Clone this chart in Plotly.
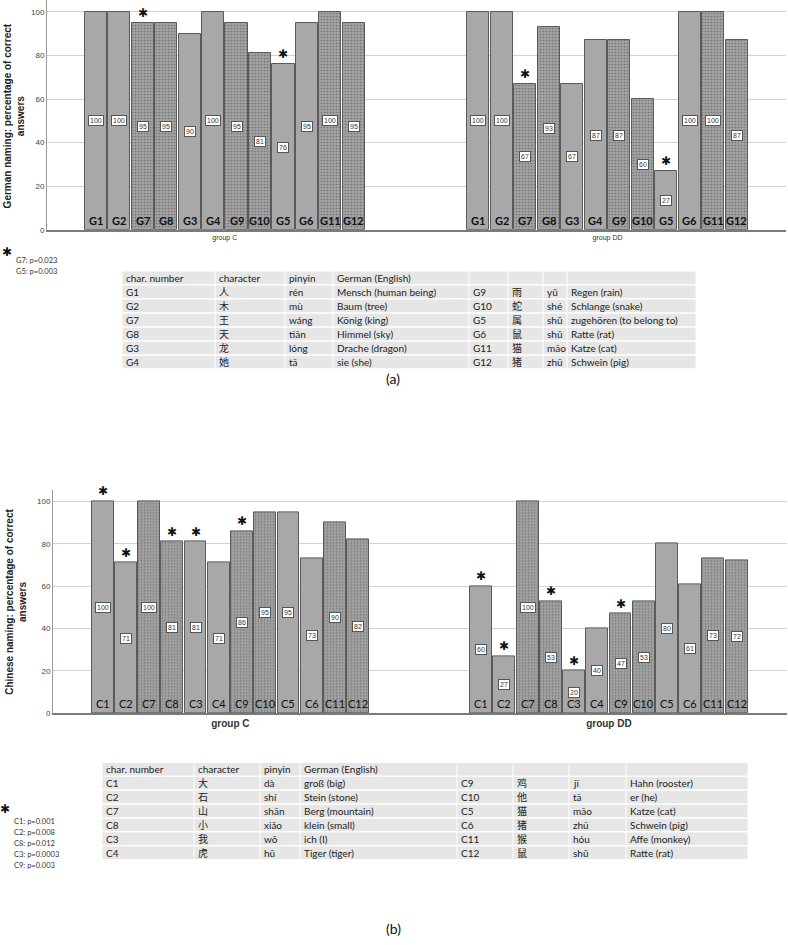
import plotly.graph_objects as go

W, H = 788, 945

# ---------------- data ----------------
groups = ["group C", "group DD"]

a_labels = ["G1", "G2", "G7", "G8", "G3", "G4", "G9", "G10", "G5", "G6", "G11", "G12"]
a_group_c = [100, 100, 95, 95, 90, 100, 95, 81, 76, 95, 100, 95]
a_group_dd = [100, 100, 67, 93, 67, 87, 87, 60, 27, 100, 100, 87]
a_sig = ["G7", "G5"]
a_pvals = ["G7: p=0.023", "G5: p=0.003"]

b_labels = ["C1", "C2", "C7", "C8", "C3", "C4", "C9", "C10", "C5", "C6", "C11", "C12"]
b_group_c = [100, 71, 100, 81, 81, 71, 86, 95, 95, 73, 90, 82]
b_group_dd = [60, 27, 100, 53, 20, 40, 47, 53, 80, 61, 73, 72]
b_sig = ["C1", "C2", "C8", "C3", "C9"]
b_pvals = ["C1: p=0.001", "C2: p=0.008", "C8: p=0.012", "C3: p=0.0003", "C9: p=0.003"]

y_ticks = [0, 20, 40, 60, 80, 100]

table_header = ["char. number", "character", "pinyin", "German (English)"]
a_tab_num = ["G1", "G2", "G7", "G8", "G3", "G4", "G9", "G10", "G5", "G6", "G11", "G12"]
a_tab_char = ["人", "木", "王", "天", "龙", "她", "雨", "蛇", "属", "鼠", "猫", "猪"]
a_tab_pinyin = ["rén", "mù", "wáng", "tiān", "lóng", "tā", "yǔ", "shé", "shǔ", "shǔ", "māo", "zhū"]
a_tab_german = ["Mensch (human being)", "Baum (tree)", "König (king)", "Himmel (sky)",
                "Drache (dragon)", "sie (she)", "Regen (rain)", "Schlange (snake)",
                "zugehören (to belong to)", "Ratte (rat)", "Katze (cat)", "Schwein (pig)"]

b_tab_num = ["C1", "C2", "C7", "C8", "C3", "C4", "C9", "C10", "C5", "C6", "C11", "C12"]
b_tab_char = ["大", "石", "山", "小", "我", "虎", "鸡", "他", "猫", "猪", "猴", "鼠"]
b_tab_pinyin = ["dà", "shí", "shān", "xiǎo", "wǒ", "hǔ", "jī", "tā", "māo", "zhū", "hóu", "shǔ"]
b_tab_german = ["groß (big)", "Stein (stone)", "Berg (mountain)", "klein (small)", "ich (I)",
                "Tiger (tiger)", "Hahn (rooster)", "er (he)", "Katze (cat)", "Schwein (pig)",
                "Affe (monkey)", "Ratte (rat)"]

# ---------------- styling helpers ----------------
FONT = "Lato, 'Noto Sans CJK SC', sans-serif"
ARIAL = "'Liberation Sans', Arial, sans-serif"
LIGHT = "#a8a8a8"
DARK = "#a2a2a2"
GROUP_OFFSET = 16.3


def px(x):
    return x / W


def py(y):
    return 1 - y / H


fig = go.Figure()
annotations = []
shapes = []


def add_panel(labels, vals_c, vals_dd, sig, xa, ya, lab_size, lab_bold):
    colors = [LIGHT if (i // 2) % 2 == 0 else DARK for i in range(len(labels))]
    shapes_p = ["" if (i // 2) % 2 == 0 else "." for i in range(len(labels))]
    for g, vals in enumerate([vals_c, vals_dd]):
        xs = [g * GROUP_OFFSET + i for i in range(len(labels))]
        fig.add_trace(go.Bar(
            x=xs, y=vals, width=0.94, xaxis=xa, yaxis=ya,
            marker=dict(color=colors,
                        line=dict(color="#5a5a5a", width=1),
                        pattern=dict(shape=shapes_p, fgcolor="#888888",
                                     bgcolor=DARK, size=3, solidity=0.25)),
            showlegend=False, hoverinfo="skip"))
        for x, v, lab in zip(xs, vals, labels):
            annotations.append(dict(
                x=x, y=v / 2, xref=xa, yref=ya, text=str(v), showarrow=False,
                font=dict(size=7, color="#333", family=ARIAL),
                bgcolor="white", bordercolor="#555", borderwidth=1, borderpad=1))
            annotations.append(dict(
                x=x, y=0, xref=xa, yref=ya, text=(f"<b>{lab}</b>" if lab_bold else lab),
                showarrow=False, yanchor="bottom", yshift=1,
                font=dict(size=lab_size, color="#111", family=FONT)))
            if lab in sig:
                annotations.append(dict(
                    x=x, y=v, xref=xa, yref=ya, text="✱", showarrow=False,
                    yanchor="bottom", yshift=1,
                    font=dict(size=12, color="#111", family="DejaVu Sans")))


add_panel(a_labels, a_group_c, a_group_dd, a_sig, "x", "y", 11, True)
add_panel(b_labels, b_group_c, b_group_dd, b_sig, "x2", "y2", 11, False)

tickvals = [5.5, GROUP_OFFSET + 5.5]

axis_common = dict(showgrid=False, zeroline=False, showline=True, linecolor="#7a7a7a",
                   linewidth=1.5, ticks="")
yaxis_common = dict(showgrid=True, gridcolor="#d2d2d2", gridwidth=1, zeroline=False,
                    showline=True, linecolor="#9a9a9a", linewidth=1, ticks="",
                    tickvals=y_ticks, tickfont=dict(size=8, color="#444", family=ARIAL))

fig.update_layout(
    width=W, height=H, margin=dict(l=0, r=0, t=0, b=0),
    paper_bgcolor="white", plot_bgcolor="white", bargap=0,
    xaxis=dict(domain=[px(47), px(786)], range=[-2.07, 29.4], tickvals=tickvals,
               ticktext=groups, anchor="y",
               tickfont=dict(size=7, color="#333", family=ARIAL), **axis_common),
    yaxis=dict(domain=[py(231), py(0)], range=[0, 105.5], anchor="x", **yaxis_common),
    xaxis2=dict(domain=[px(53), px(787)], range=[-2.14, 29.47], tickvals=tickvals,
                ticktext=["<b>" + g + "</b>" for g in groups], anchor="y2",
                tickfont=dict(size=10, color="#333", family=ARIAL), **axis_common),
    yaxis2=dict(domain=[py(717), py(493)], range=[0, 105.2], anchor="x2", **yaxis_common),
)

# y axis titles
annotations.append(dict(x=px(14), y=py(117), xref="paper", yref="paper", showarrow=False,
                        xanchor="center", yanchor="middle",
                        text="<b>German naming: percentage of correct<br>answers</b>",
                        textangle=-90, font=dict(size=10, color="#222", family=ARIAL)))
annotations.append(dict(x=px(16), y=py(605), xref="paper", yref="paper", showarrow=False,
                        xanchor="center", yanchor="middle",
                        text="<b>Chinese naming: percentage of correct<br>answers</b>",
                        textangle=-90, font=dict(size=10, color="#222", family=ARIAL)))


# significance legends
def sig_legend(star_xy, text_x, text_y0, step, items):
    annotations.append(dict(x=px(star_xy[0]), y=py(star_xy[1]), xref="paper", yref="paper",
                            showarrow=False, text="✱", xanchor="center", yanchor="middle",
                            font=dict(size=12, color="#111", family="DejaVu Sans")))
    for k, t in enumerate(items):
        annotations.append(dict(x=px(text_x), y=py(text_y0 + k * step), xref="paper",
                                yref="paper", showarrow=False, xanchor="left",
                                yanchor="middle", text=t,
                                font=dict(size=7.5, color="#333", family=FONT)))


sig_legend((7, 253), 14, 262, 11, a_pvals)
sig_legend((5, 813), 12, 826, 11, b_pvals)


# tables
def draw_table(bounds, top, row_h, nums, chars, pins, germs):
    half = len(nums) // 2
    rows = [table_header + ["", "", "", ""]]
    for i in range(half):
        rows.append([nums[i], chars[i], pins[i], germs[i],
                     nums[i + half], chars[i + half], pins[i + half], germs[i + half]])
    for r, row in enumerate(rows):
        y0 = top + r * row_h
        y1 = y0 + row_h - 1.5
        for c in range(len(bounds) - 1):
            shapes.append(dict(type="rect", xref="paper", yref="paper",
                               x0=px(bounds[c] + 0.5), x1=px(bounds[c + 1] - 0.5),
                               y0=py(y1), y1=py(y0), fillcolor="#e6e6e6",
                               line=dict(width=0), layer="below"))
            txt = row[c]
            if txt:
                annotations.append(dict(x=px(bounds[c] + 2), y=py((y0 + y1) / 2),
                                        xref="paper", yref="paper", showarrow=False,
                                        xanchor="left", yanchor="middle", text=txt,
                                        font=dict(size=10, color="#222", family=FONT)))


draw_table([122, 215, 285, 333, 469, 508, 543, 567, 696], 273, 14.1,
           a_tab_num, a_tab_char, a_tab_pinyin, a_tab_german)
draw_table([102, 194, 260, 300, 457, 513, 569, 626, 748], 767, 14.0,
           b_tab_num, b_tab_char, b_tab_pinyin, b_tab_german)

# panel labels
annotations.append(dict(x=px(393), y=py(381), xref="paper", yref="paper", showarrow=False,
                        xanchor="center", yanchor="middle",
                        text="(a)", font=dict(size=14, color="#111", family=FONT)))
annotations.append(dict(x=px(393), y=py(933), xref="paper", yref="paper", showarrow=False,
                        xanchor="center", yanchor="middle",
                        text="(b)", font=dict(size=14, color="#111", family=FONT)))

fig.update_layout(annotations=annotations, shapes=shapes)
fig.write_html("out.html", config={"displayModeBar": False},
               post_script="document.body.style.margin='0';document.body.style.overflow='hidden';")
